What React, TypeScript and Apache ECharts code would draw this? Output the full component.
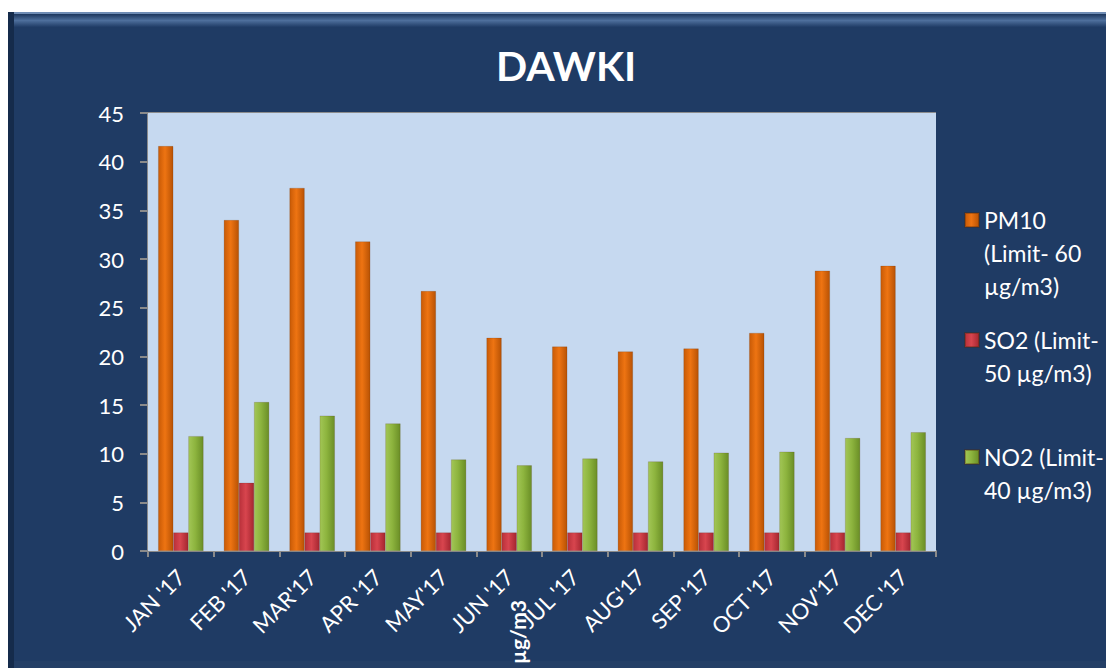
import React, { useEffect, useRef } from "react";
import * as echarts from "echarts";

const months = ["JAN '17", "FEB '17", "MAR'17", "APR '17", "MAY'17", "JUN '17", "JUL '17", "AUG'17", "SEP '17", "OCT '17", "NOV'17", "DEC '17"];
const pm10 = [41.6, 34.0, 37.3, 31.8, 26.7, 21.9, 21.0, 20.5, 20.8, 22.4, 28.8, 29.3];
const so2 = [1.9, 7.0, 1.9, 1.9, 1.9, 1.9, 1.9, 1.9, 1.9, 1.9, 1.9, 1.9];
const no2 = [11.8, 15.3, 13.9, 13.1, 9.4, 8.8, 9.5, 9.2, 10.1, 10.2, 11.6, 12.2];
const seriesNames = ["PM10 (Limit- 60 µg/m3)", "SO2 (Limit- 50 µg/m3)", "NO2 (Limit- 40 µg/m3)"];
const legendLabels = ["\n\nPM10\n(Limit- 60\nµg/m3)", "\nSO2 (Limit-\n50 µg/m3)", "\nNO2 (Limit-\n40 µg/m3)"];
const chartTitle = "DAWKI";
const unitLabel = "µg/m3";

const FONT = "Lato, 'Noto Sans', sans-serif";

function hGrad(left: string, mid: string, right: string) {
  return new echarts.graphic.LinearGradient(0, 0, 1, 0, [
    { offset: 0, color: left },
    { offset: 0.45, color: mid },
    { offset: 1, color: right },
  ]);
}

export default function App() {
  const ref = useRef<HTMLDivElement>(null);
  useEffect(() => {
    if (!ref.current) return;
    const chart = echarts.init(ref.current, undefined, { renderer: "svg" });
    const colors = [
      hGrad("#C85A06", "#EE7412", "#B85204"),
      hGrad("#B8303A", "#D8454E", "#A52630"),
      hGrad("#A2C656", "#8DB43E", "#6A8E26"),
    ];
    const flat = ["#E46C0A", "#C9363E", "#8DB43E"];
    const legendTops = [137.5, 290.5, 407.5];
    chart.setOption({
      animation: false,
      backgroundColor: "#ffffff",
      title: {
        text: chartTitle,
        left: 491,
        top: 40,
        textStyle: { color: "#ffffff", fontSize: 41, fontWeight: "bold", fontFamily: FONT },
      },
      legend: seriesNames.map((n, i) => ({
        data: [n],
        orient: "vertical",
        left: 964,
        top: legendTops[i],
        padding: 0,
        icon: "rect",
        itemWidth: 14,
        itemHeight: 14,
        formatter: () => legendLabels[i],
        textStyle: { color: "#ffffff", fontSize: 23, lineHeight: 33, fontFamily: FONT },
      })),
      grid: {
        left: 148,
        top: 113,
        right: 170,
        bottom: 117,
        show: true,
        backgroundColor: "#C6D9F0",
        borderWidth: 0,
        z: 2,
      },
      xAxis: {
        type: "category",
        data: months,
        axisLine: { show: true, lineStyle: { color: "#8A8A8A", width: 2 } },
        axisTick: { show: true, length: 6, lineStyle: { color: "#8A8A8A", width: 2 } },
        axisLabel: { rotate: 45, color: "#ffffff", fontSize: 22, margin: 22, fontFamily: FONT, interval: 0 },
      },
      yAxis: {
        type: "value",
        min: 0,
        max: 45,
        interval: 5,
        axisLine: { show: true, lineStyle: { color: "#8A8A8A", width: 2 } },
        axisTick: { show: true, length: 8, lineStyle: { color: "#8A8A8A", width: 2 } },
        axisLabel: { color: "#ffffff", fontSize: 22, margin: 24, fontFamily: FONT },
        splitLine: { show: true, lineStyle: { color: "#8C8C8C", width: 2 } },
      },
      graphic: [
        { type: "rect", z: -100, shape: { x: 8, y: 12, width: 1098, height: 656 }, style: { fill: "#1F3B64" } },
        { type: "rect", z: -99, shape: { x: 8, y: 12, width: 1098, height: 2 }, style: { fill: "#6F8CB4" } },
        {
          type: "rect",
          z: -99,
          shape: { x: 14, y: 14, width: 1092, height: 13 },
          style: {
            fill: new echarts.graphic.LinearGradient(0, 0, 0, 1, [
              { offset: 0, color: "#1C365C" },
              { offset: 0.5, color: "#4E6F9C" },
              { offset: 1, color: "#203C66" },
            ]),
          },
        },
        { type: "rect", z: -99, shape: { x: 8, y: 12, width: 6, height: 656 }, style: { fill: "#152B4B" } },
        { type: "rect", z: -99, shape: { x: 14, y: 661, width: 1092, height: 7 }, style: { fill: "#243F66" } },
        {
          type: "text",
          z: 10,
          x: 517,
          y: 632,
          rotation: Math.PI / 2,
          style: {
            text: unitLabel,
            fill: "#ffffff",
            fontSize: 21,
            fontWeight: "bold",
            fontFamily: FONT,
            align: "center",
            verticalAlign: "middle",
          },
        },
      ],
      series: [pm10, so2, no2].map((d, i) => ({
        name: seriesNames[i],
        type: "bar",
        data: d,
        barGap: "0%",
        barCategoryGap: "31%",
        color: flat[i],
        itemStyle: { color: colors[i], borderColor: "rgba(80,40,10,0.35)", borderWidth: 0.5 },
        z: 3,
      })),
    });
    return () => chart.dispose();
  }, []);
  return (
    <div style={{ position: "fixed", left: 0, top: 0, width: 1106, height: 668, background: "#fff" }}>
      <div ref={ref} style={{ width: 1106, height: 668 }} />
    </div>
  );
}
